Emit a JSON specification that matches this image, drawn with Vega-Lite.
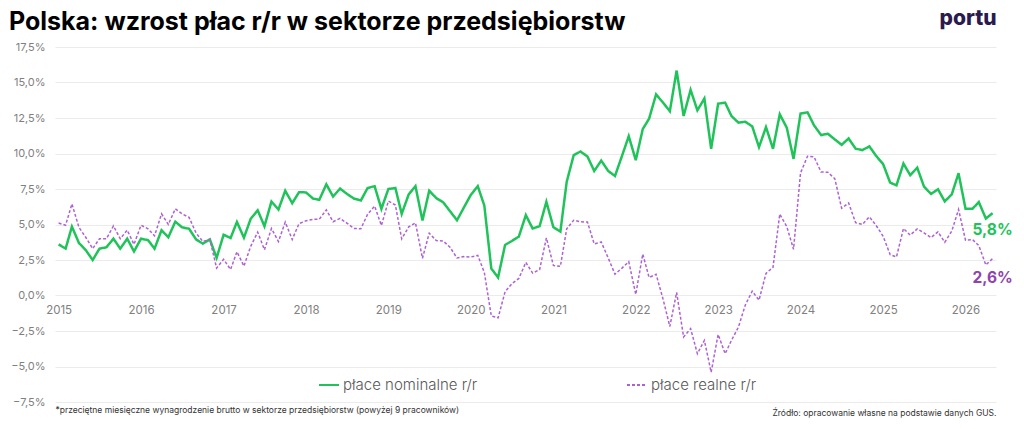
{
  "$schema": "https://vega.github.io/schema/vega-lite/v6.json",
  "description": "Polska: wzrost płac r/r w sektorze przedsiębiorstw",
  "autosize": {"type": "none"},
  "padding": {"left": 55, "top": 47, "right": 28, "bottom": 27},
  "width": 941,
  "height": 355,
  "background": "#ffffff",
  "config": {
    "view": {"stroke": null},
    "font": "Inter",
    "axis": {"labelFont": "Inter", "titleFont": "Inter"},
    "legend": {"labelFont": "Inter"}
  },
  "title": {
    "text": "Polska: wzrost płac r/r w sektorze przedsiębiorstw",
    "anchor": "start",
    "frame": "group",
    "dx": -46,
    "offset": -48,
    "baseline": "alphabetic",
    "font": "Inter",
    "fontSize": 25,
    "fontWeight": 700,
    "color": "#000000"
  },
  "data": {
    "values": [
      {"month": "2015-01", "nominal": 3.6, "real": 5.1},
      {"month": "2015-02", "nominal": 3.3, "real": 4.95},
      {"month": "2015-03", "nominal": 4.85, "real": 6.45},
      {"month": "2015-04", "nominal": 3.7, "real": 4.8},
      {"month": "2015-05", "nominal": 3.2, "real": 4.1},
      {"month": "2015-06", "nominal": 2.5, "real": 3.3},
      {"month": "2015-07", "nominal": 3.3, "real": 4.0},
      {"month": "2015-08", "nominal": 3.4, "real": 4.0},
      {"month": "2015-09", "nominal": 4.0, "real": 4.9},
      {"month": "2015-10", "nominal": 3.3, "real": 4.0},
      {"month": "2015-11", "nominal": 4.0, "real": 4.6},
      {"month": "2015-12", "nominal": 3.1, "real": 3.6},
      {"month": "2016-01", "nominal": 4.0, "real": 4.95},
      {"month": "2016-02", "nominal": 3.9, "real": 4.7},
      {"month": "2016-03", "nominal": 3.3, "real": 4.2},
      {"month": "2016-04", "nominal": 4.6, "real": 5.75},
      {"month": "2016-05", "nominal": 4.1, "real": 5.0},
      {"month": "2016-06", "nominal": 5.2, "real": 6.1},
      {"month": "2016-07", "nominal": 4.8, "real": 5.75},
      {"month": "2016-08", "nominal": 4.7, "real": 5.5},
      {"month": "2016-09", "nominal": 3.95, "real": 4.4},
      {"month": "2016-10", "nominal": 3.65, "real": 3.8},
      {"month": "2016-11", "nominal": 3.95, "real": 3.95},
      {"month": "2016-12", "nominal": 2.65, "real": 1.93},
      {"month": "2017-01", "nominal": 4.28, "real": 2.55},
      {"month": "2017-02", "nominal": 4.05, "real": 1.83},
      {"month": "2017-03", "nominal": 5.18, "real": 3.08},
      {"month": "2017-04", "nominal": 4.07, "real": 2.07},
      {"month": "2017-05", "nominal": 5.4, "real": 3.46},
      {"month": "2017-06", "nominal": 6.0, "real": 4.46},
      {"month": "2017-07", "nominal": 4.88, "real": 3.22},
      {"month": "2017-08", "nominal": 6.62, "real": 4.72},
      {"month": "2017-09", "nominal": 6.05, "real": 3.8},
      {"month": "2017-10", "nominal": 7.38, "real": 5.17},
      {"month": "2017-11", "nominal": 6.5, "real": 3.94},
      {"month": "2017-12", "nominal": 7.27, "real": 5.06},
      {"month": "2018-01", "nominal": 7.26, "real": 5.26},
      {"month": "2018-02", "nominal": 6.83, "real": 5.36},
      {"month": "2018-03", "nominal": 6.74, "real": 5.37},
      {"month": "2018-04", "nominal": 7.83, "real": 6.03},
      {"month": "2018-05", "nominal": 6.97, "real": 5.2},
      {"month": "2018-06", "nominal": 7.53, "real": 5.43},
      {"month": "2018-07", "nominal": 7.16, "real": 5.1},
      {"month": "2018-08", "nominal": 6.83, "real": 4.72},
      {"month": "2018-09", "nominal": 6.69, "real": 4.7},
      {"month": "2018-10", "nominal": 7.57, "real": 5.72},
      {"month": "2018-11", "nominal": 7.7, "real": 6.3},
      {"month": "2018-12", "nominal": 6.1, "real": 4.93},
      {"month": "2019-01", "nominal": 7.5, "real": 6.65},
      {"month": "2019-02", "nominal": 7.57, "real": 6.37},
      {"month": "2019-03", "nominal": 5.75, "real": 3.99},
      {"month": "2019-04", "nominal": 7.12, "real": 4.83},
      {"month": "2019-05", "nominal": 7.7, "real": 5.12},
      {"month": "2019-06", "nominal": 5.28, "real": 2.62},
      {"month": "2019-07", "nominal": 7.38, "real": 4.39},
      {"month": "2019-08", "nominal": 6.86, "real": 3.87},
      {"month": "2019-09", "nominal": 6.56, "real": 3.84},
      {"month": "2019-10", "nominal": 5.94, "real": 3.4},
      {"month": "2019-11", "nominal": 5.3, "real": 2.64},
      {"month": "2019-12", "nominal": 6.18, "real": 2.74},
      {"month": "2020-01", "nominal": 7.08, "real": 2.71},
      {"month": "2020-02", "nominal": 7.7, "real": 2.83},
      {"month": "2020-03", "nominal": 6.34, "real": 1.63},
      {"month": "2020-04", "nominal": 1.9, "real": -1.44},
      {"month": "2020-05", "nominal": 1.27, "real": -1.58},
      {"month": "2020-06", "nominal": 3.56, "real": 0.26},
      {"month": "2020-07", "nominal": 3.84, "real": 0.83},
      {"month": "2020-08", "nominal": 4.15, "real": 1.2},
      {"month": "2020-09", "nominal": 5.66, "real": 2.33},
      {"month": "2020-10", "nominal": 4.72, "real": 1.58},
      {"month": "2020-11", "nominal": 4.88, "real": 1.82},
      {"month": "2020-12", "nominal": 6.6, "real": 4.06},
      {"month": "2021-01", "nominal": 4.81, "real": 2.12},
      {"month": "2021-02", "nominal": 4.5, "real": 2.05},
      {"month": "2021-03", "nominal": 8.0, "real": 4.69},
      {"month": "2021-04", "nominal": 9.88, "real": 5.3},
      {"month": "2021-05", "nominal": 10.14, "real": 5.19},
      {"month": "2021-06", "nominal": 9.79, "real": 5.17},
      {"month": "2021-07", "nominal": 8.77, "real": 3.63},
      {"month": "2021-08", "nominal": 9.5, "real": 3.77},
      {"month": "2021-09", "nominal": 8.77, "real": 2.64},
      {"month": "2021-10", "nominal": 8.42, "real": 1.5},
      {"month": "2021-11", "nominal": 9.83, "real": 1.93},
      {"month": "2021-12", "nominal": 11.22, "real": 2.38},
      {"month": "2022-01", "nominal": 9.53, "real": 0.08},
      {"month": "2022-02", "nominal": 11.72, "real": 2.92},
      {"month": "2022-03", "nominal": 12.45, "real": 1.27},
      {"month": "2022-04", "nominal": 14.16, "real": 1.5},
      {"month": "2022-05", "nominal": 13.6, "real": -0.2},
      {"month": "2022-06", "nominal": 12.98, "real": -2.18},
      {"month": "2022-07", "nominal": 15.84, "real": 0.22},
      {"month": "2022-08", "nominal": 12.64, "real": -2.92},
      {"month": "2022-09", "nominal": 14.48, "real": -2.33},
      {"month": "2022-10", "nominal": 13.04, "real": -4.1},
      {"month": "2022-11", "nominal": 13.87, "real": -3.16},
      {"month": "2022-12", "nominal": 10.33, "real": -5.4},
      {"month": "2023-01", "nominal": 13.51, "real": -2.74},
      {"month": "2023-02", "nominal": 13.58, "real": -4.1},
      {"month": "2023-03", "nominal": 12.64, "real": -3.16},
      {"month": "2023-04", "nominal": 12.17, "real": -2.22},
      {"month": "2023-05", "nominal": 12.24, "real": -0.68},
      {"month": "2023-06", "nominal": 11.91, "real": 0.31},
      {"month": "2023-07", "nominal": 10.45, "real": -0.33},
      {"month": "2023-08", "nominal": 11.86, "real": 1.56},
      {"month": "2023-09", "nominal": 10.33, "real": 1.98},
      {"month": "2023-10", "nominal": 12.76, "real": 5.73},
      {"month": "2023-11", "nominal": 11.82, "real": 4.86},
      {"month": "2023-12", "nominal": 9.62, "real": 3.25},
      {"month": "2024-01", "nominal": 12.81, "real": 8.63},
      {"month": "2024-02", "nominal": 12.9, "real": 9.81},
      {"month": "2024-03", "nominal": 11.98, "real": 9.76},
      {"month": "2024-04", "nominal": 11.3, "real": 8.7},
      {"month": "2024-05", "nominal": 11.39, "real": 8.68},
      {"month": "2024-06", "nominal": 10.99, "real": 8.22},
      {"month": "2024-07", "nominal": 10.61, "real": 6.15},
      {"month": "2024-08", "nominal": 11.06, "real": 6.52},
      {"month": "2024-09", "nominal": 10.34, "real": 5.13},
      {"month": "2024-10", "nominal": 10.24, "real": 5.0},
      {"month": "2024-11", "nominal": 10.5, "real": 5.54},
      {"month": "2024-12", "nominal": 9.83, "real": 4.93},
      {"month": "2025-01", "nominal": 9.25, "real": 4.17},
      {"month": "2025-02", "nominal": 7.95, "real": 2.88},
      {"month": "2025-03", "nominal": 7.76, "real": 2.71},
      {"month": "2025-04", "nominal": 9.29, "real": 4.72},
      {"month": "2025-05", "nominal": 8.47, "real": 4.25},
      {"month": "2025-06", "nominal": 9.0, "real": 4.69},
      {"month": "2025-07", "nominal": 7.67, "real": 4.41},
      {"month": "2025-08", "nominal": 7.15, "real": 4.08},
      {"month": "2025-09", "nominal": 7.48, "real": 4.48},
      {"month": "2025-10", "nominal": 6.63, "real": 3.75},
      {"month": "2025-11", "nominal": 7.12, "real": 4.53},
      {"month": "2025-12", "nominal": 8.61, "real": 6.06},
      {"month": "2026-01", "nominal": 6.11, "real": 3.89},
      {"month": "2026-02", "nominal": 6.11, "real": 3.94},
      {"month": "2026-03", "nominal": 6.58, "real": 3.51},
      {"month": "2026-04", "nominal": 5.42, "real": 2.15},
      {"month": "2026-05", "nominal": 5.8, "real": 2.6}
    ]
  },
  "resolve": {"axis": {"x": "independent", "y": "independent"}},
  "layer": [
    {
      "mark": {"type": "line", "strokeWidth": 2.5},
      "encoding": {
        "x": {
          "field": "month",
          "type": "temporal",
          "scale": {
            "type": "utc",
            "domain": [
              {"year": 2014, "month": 12, "date": 16, "utc": true},
              {"year": 2026, "month": 5, "date": 16, "utc": true}
            ]
          },
          "axis": {
            "orient": "bottom",
            "offset": -106.5,
            "title": null,
            "format": "%Y",
            "tickCount": "year",
            "grid": false,
            "domain": false,
            "ticks": false,
            "labelPadding": 9,
            "labelFontSize": 11.5,
            "labelColor": "#808080"
          }
        },
        "y": {
          "field": "nominal",
          "type": "quantitative",
          "title": null,
          "scale": {"domain": [-7.5, 17.5], "nice": false, "zero": false},
          "axis": {
            "orient": "left",
            "values": [-7.5, -5, -2.5, 0, 2.5, 5, 7.5, 10, 12.5, 15, 17.5],
            "labelExpr": "replace(format(datum.value, '.1f'), '.', ',') + '%'",
            "grid": true,
            "gridColor": "#ebebeb",
            "gridWidth": 1,
            "domain": false,
            "ticks": false,
            "labelPadding": 10,
            "labelFontSize": 11,
            "labelColor": "#7f7f7f"
          }
        },
        "color": {
          "datum": "płace nominalne r/r",
          "scale": {
            "domain": ["płace nominalne r/r", "płace realne r/r"],
            "range": ["#20c35a", "#ad62d3"]
          },
          "legend": {
            "title": null,
            "orient": "none",
            "legendX": 263,
            "legendY": 327,
            "direction": "horizontal",
            "symbolType": "stroke",
            "symbolSize": 400,
            "symbolStrokeWidth": 2,
            "labelFontSize": 15,
            "labelFontWeight": 300,
            "labelColor": "#595959",
            "labelOffset": 3,
            "columnPadding": 145
          }
        },
        "strokeDash": {
          "datum": "płace nominalne r/r",
          "scale": {
            "domain": ["płace nominalne r/r", "płace realne r/r"],
            "range": [[1, 0], [3, 2]]
          },
          "legend": {"title": null}
        }
      }
    },
    {
      "mark": {"type": "line", "strokeWidth": 1.5},
      "encoding": {
        "x": {
          "field": "month",
          "type": "temporal",
          "axis": {
            "orient": "bottom",
            "title": "Źródło: opracowanie własne na podstawie danych GUS.",
            "titleAnchor": "end",
            "titleFontSize": 8.5,
            "titleFontWeight": "normal",
            "titleColor": "#333333",
            "titlePadding": 6,
            "labels": false,
            "ticks": false,
            "domain": false,
            "grid": false
          }
        },
        "y": {"field": "real", "type": "quantitative", "axis": null},
        "color": {"datum": "płace realne r/r"},
        "strokeDash": {"datum": "płace realne r/r"}
      }
    },
    {
      "transform": [
        {
          "window": [{"op": "row_number", "as": "rank"}],
          "sort": [{"field": "month", "order": "descending"}]
        },
        {"filter": "datum.rank == 1"},
        {"calculate": "replace(format(datum.nominal, '.1f'), '.', ',') + '%'", "as": "label"}
      ],
      "mark": {
        "type": "text",
        "dy": 17,
        "fontSize": 15.5,
        "fontWeight": "bold",
        "color": "#20c35a"
      },
      "encoding": {
        "x": {
          "field": "month",
          "type": "temporal",
          "axis": {
            "orient": "bottom",
            "title": "*przeciętne miesięczne wynagrodzenie brutto w sektorze przedsiębiorstw (powyżej 9 pracowników)",
            "titleAnchor": "start",
            "titleFontSize": 8.5,
            "titleFontWeight": "normal",
            "titleColor": "#333333",
            "titlePadding": 3,
            "labels": false,
            "ticks": false,
            "domain": false,
            "grid": false
          }
        },
        "y": {"field": "nominal", "type": "quantitative", "axis": null},
        "text": {"field": "label", "type": "nominal"}
      }
    },
    {
      "transform": [
        {
          "window": [{"op": "row_number", "as": "rank"}],
          "sort": [{"field": "month", "order": "descending"}]
        },
        {"filter": "datum.rank == 1"},
        {"calculate": "replace(format(datum.real, '.1f'), '.', ',') + '%'", "as": "label"}
      ],
      "mark": {
        "type": "text",
        "dy": 19,
        "fontSize": 15.5,
        "fontWeight": "bold",
        "color": "#8e44ad"
      },
      "encoding": {
        "x": {
          "field": "month",
          "type": "temporal",
          "axis": {
            "orient": "top",
            "title": "portu",
            "titleAnchor": "end",
            "titleFontSize": 21,
            "titleFontWeight": 800,
            "titleColor": "#2b1a4e",
            "titlePadding": 19,
            "labels": false,
            "ticks": false,
            "domain": false,
            "grid": false
          }
        },
        "y": {"field": "real", "type": "quantitative", "axis": null},
        "text": {"field": "label", "type": "nominal"}
      }
    }
  ]
}
